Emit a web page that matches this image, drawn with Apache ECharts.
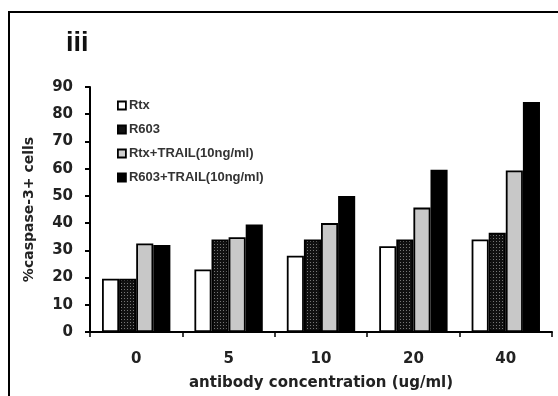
<!DOCTYPE html>
<html>
<head>
<meta charset="utf-8">
<script src="https://cdn.jsdelivr.net/npm/echarts@6/dist/echarts.min.js"></script>
<style>
  html, body { margin: 0; padding: 0; background: #fff; }
  #chart { width: 558px; height: 396px; }
</style>
</head>
<body>
<div id="chart"></div>
<script>
var categories = ['0', '5', '10', '20', '40'];
var seriesNames = ['Rtx', 'R603', 'Rtx+TRAIL(10ng/ml)', 'R603+TRAIL(10ng/ml)'];
var rtx = [19.6, 23, 28, 31.5, 34];
var r603 = [19.6, 34, 34, 34, 36.5];
var rtxTrail = [32.5, 34.8, 40, 45.7, 59.3];
var r603Trail = [32, 39.5, 50, 59.6, 84.5];
var yTicks = [0, 10, 20, 30, 40, 50, 60, 70, 80, 90];

// dotted dark fill for R603
var pat = document.createElement('canvas');
pat.width = 3; pat.height = 3;
var pctx = pat.getContext('2d');
pctx.fillStyle = '#111';
pctx.fillRect(0, 0, 3, 3);
pctx.fillStyle = '#777';
pctx.fillRect(1, 1, 1, 1);

var font = '"DejaVu Sans", Verdana, sans-serif';
var fills = ['#ffffff', { image: pat, repeat: 'repeat' }, '#c8c8c8', '#000000'];
var legendFills = ['#ffffff', '#111111', '#d0d0d0', '#000000'];
var dataSets = [rtx, r603, rtxTrail, r603Trail];

var chart = echarts.init(document.getElementById('chart'), null, { renderer: 'canvas' });

var series = seriesNames.map(function (name, i) {
  return {
    name: name,
    type: 'bar',
    data: dataSets[i],
    barGap: '0%',
    barCategoryGap: '26%',
    itemStyle: { color: fills[i], borderColor: '#000', borderWidth: 1.8 },
    animation: false
  };
});

var option = {
  backgroundColor: '#fff',
  animation: false,
  grid: { left: 90, right: 6, top: 87, bottom: 63 },
  legend: {
    orient: 'vertical',
    left: 112,
    top: 94,
    itemWidth: 8,
    itemHeight: 8,
    itemGap: 11,
    icon: 'rect',
    data: seriesNames.map(function (n, i) {
      return { name: n, itemStyle: { color: legendFills[i], borderColor: '#000', borderWidth: 1.8 } };
    }),
    textStyle: { fontFamily: '"Liberation Sans", Arial, sans-serif', fontSize: 13, fontWeight: 'bold', color: '#333', padding: [0, 0, 0, -2] }
  },
  title: {
    text: 'iii',
    left: 61,
    top: 25,
    textStyle: { fontFamily: '"Liberation Sans", Arial, sans-serif', fontSize: 27, fontWeight: 'bold', color: '#111' }
  },
  xAxis: {
    type: 'category',
    data: categories,
    name: 'antibody concentration (ug/ml)',
    nameLocation: 'middle',
    nameGap: 44,
    nameTextStyle: { fontFamily: font, fontSize: 15, fontWeight: 'bold', color: '#222' },
    axisLine: { lineStyle: { color: '#000', width: 2 } },
    axisTick: { show: true, length: 5, lineStyle: { color: '#000', width: 1.5 } },
    axisLabel: { fontFamily: font, fontSize: 15, fontWeight: 'bold', color: '#222', margin: 20 }
  },
  yAxis: {
    type: 'value',
    min: yTicks[0],
    max: yTicks[yTicks.length - 1],
    interval: 10,
    name: '%caspase-3+ cells',
    nameLocation: 'middle',
    nameGap: 54,
    nameTextStyle: { fontFamily: font, fontSize: 14, fontWeight: 'bold', color: '#222' },
    splitLine: { show: false },
    axisLine: { show: true, lineStyle: { color: '#000', width: 2 } },
    axisTick: { show: true, length: 5, lineStyle: { color: '#000', width: 2 } },
    axisLabel: { fontFamily: font, fontSize: 15, fontWeight: 'bold', color: '#222', margin: 17 }
  },
  graphic: [
    { type: 'line', shape: { x1: 8, y1: 12, x2: 558, y2: 12 }, style: { stroke: '#000', lineWidth: 2 } },
    { type: 'line', shape: { x1: 9, y1: 12, x2: 9, y2: 396 }, style: { stroke: '#000', lineWidth: 2 } }
  ],
  series: series
};

chart.setOption(option);
</script>
</body>
</html>
